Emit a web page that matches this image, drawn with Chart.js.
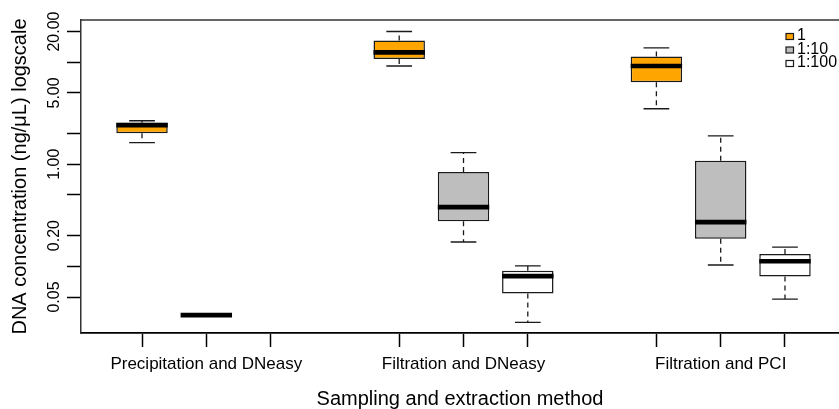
<!DOCTYPE html>
<html><head><meta charset="utf-8">
<script src="https://cdn.jsdelivr.net/npm/chart.js@4"></script>
<style>html,body{margin:0;padding:0;background:#fff;overflow:hidden}#wrap{width:839px;height:409px;position:relative}</style>
</head><body><div id="wrap"><canvas id="c"></canvas></div>
<script>
// ---- data ----
const groups = ['Precipitation and DNeasy', 'Filtration and DNeasy', 'Filtration and PCI'];
const seriesNames = ['1', '1:10', '1:100'];
const seriesColors = ['#FFA500', '#BEBEBE', '#FFFFFF'];
// each array: [series][group]
const whiskerHigh = [[2.67, 20.0, 13.8], [0.0332, 1.30, 1.90], [null, 0.101, 0.154]];
const upperQuartile = [[2.55, 16.3, 11.4], [0.0332, 0.839, 1.08], [null, 0.0904, 0.132]];
const medians = [[2.42, 12.5, 9.18], [0.0332, 0.380, 0.271], [null, 0.0802, 0.112]];
const lowerQuartile = [[2.01, 10.75, 6.35], [0.0332, 0.277, 0.186], [null, 0.0542, 0.0796]];
const whiskerLow = [[1.63, 9.18, 3.50], [0.0332, 0.173, 0.103], [null, 0.0282, 0.0477]];
const yTickValues = [0.05, 0.1, 0.2, 0.5, 1, 2, 5, 10, 20];
const yTickLabelled = [0.05, 0.2, 1, 5, 20];
const xTitle = 'Sampling and extraction method';
const yTitle = 'DNA concentration (ng/\u03BCL) logscale';

// ---- layout helpers ----
const FONT = '"Liberation Sans", Arial, Helvetica, sans-serif';
const slot = (s, g) => g * (seriesNames.length + 1) + s + 1;
const xTickPositions = [];
groups.forEach((g, gi) => seriesNames.forEach((s, si) => xTickPositions.push(slot(si, gi))));
const groupCenter = gi => slot((seriesNames.length - 1) / 2, gi);

const mc = document.createElement('canvas').getContext('2d');
mc.font = '16px ' + FONT;
const yLabW = mc.measureText('20.00').width;
const yTickPad = 12 - yLabW / 2;

const datasets = seriesNames.map((name, si) => ({
  label: name,
  data: groups.map((g, gi) => lowerQuartile[si][gi] == null ? null :
    { x: slot(si, gi), y: [lowerQuartile[si][gi], upperQuartile[si][gi]] }).filter(d => d),
  backgroundColor: seriesColors[si],
  borderColor: '#1a1a1a',
  borderWidth: 1.5,
  borderSkipped: false,
  grouped: false,
  barPercentage: 0.8,
  categoryPercentage: 1.0
}));

const boxExtras = {
  id: 'boxExtras',
  afterDatasetsDraw(chart) {
    const ctx = chart.ctx, xs = chart.scales.x, ys = chart.scales.y;
    ctx.save();
    seriesNames.forEach((name, si) => {
      groups.forEach((g, gi) => {
        if (medians[si][gi] == null) return;
        const p = slot(si, gi);
        const cx = xs.getPixelForValue(p);
        const capL = xs.getPixelForValue(p - 0.2), capR = xs.getPixelForValue(p + 0.2);
        const boxL = xs.getPixelForValue(p - 0.4), boxR = xs.getPixelForValue(p + 0.4);
        const yHi = ys.getPixelForValue(whiskerHigh[si][gi]);
        const yQ3 = ys.getPixelForValue(upperQuartile[si][gi]);
        const yQ1 = ys.getPixelForValue(lowerQuartile[si][gi]);
        const yLo = ys.getPixelForValue(whiskerLow[si][gi]);
        const yMed = ys.getPixelForValue(medians[si][gi]);
        ctx.strokeStyle = '#1a1a1a';
        ctx.lineWidth = 1.3;
        ctx.lineCap = 'butt';
        if (yQ3 - yHi > 0.5 || yLo - yQ1 > 0.5) {
          ctx.setLineDash([5, 4]);
          ctx.beginPath();
          ctx.moveTo(cx, yQ3); ctx.lineTo(cx, yHi);
          ctx.moveTo(cx, yQ1); ctx.lineTo(cx, yLo);
          ctx.stroke();
          ctx.setLineDash([]);
          ctx.beginPath();
          ctx.moveTo(capL, yHi); ctx.lineTo(capR, yHi);
          ctx.moveTo(capL, yLo); ctx.lineTo(capR, yLo);
          ctx.stroke();
        }
        ctx.setLineDash([]);
        ctx.strokeStyle = '#000';
        ctx.lineWidth = 4.7;
        ctx.beginPath();
        ctx.moveTo(boxL, yMed); ctx.lineTo(boxR, yMed);
        ctx.stroke();
      });
    });
    ctx.restore();
  },
  afterDraw(chart) {
    const ctx = chart.ctx, a = chart.chartArea;
    ctx.save();
    ctx.strokeStyle = '#333';
    ctx.lineWidth = 1.5;
    ctx.beginPath();
    ctx.moveTo(a.left - 0.75, a.top); ctx.lineTo(a.right, a.top);
    ctx.stroke();
    // legend
    const rows = [36, 49.5, 63];
    ctx.font = '16px ' + FONT;
    ctx.textBaseline = 'middle';
    ctx.textAlign = 'left';
    chart.data.datasets.forEach((ds, i) => {
      const y = rows[i];
      ctx.fillStyle = ds.backgroundColor;
      ctx.fillRect(786, y - 2.5, 7.5, 6);
      ctx.strokeStyle = '#1a1a1a';
      ctx.lineWidth = 1.2;
      ctx.strokeRect(786, y - 2.5, 7.5, 6);
      ctx.fillStyle = '#000';
      ctx.fillText(ds.label, 797, y);
    });
    ctx.restore();
  }
};

Chart.defaults.font.family = FONT;
Chart.defaults.color = '#000';

new Chart(document.getElementById('c'), {
  type: 'bar',
  data: { datasets },
  options: {
    responsive: true,
    maintainAspectRatio: false,
    animation: false,
    events: [],
    layout: { padding: { top: 20, right: 0, bottom: 0, left: 0 } },
    plugins: { legend: { display: false }, tooltip: { enabled: false } },
    scales: {
      x: {
        type: 'linear',
        offset: false,
        min: 0.051,
        max: 11.84,
        afterBuildTicks: s => { s.ticks = xTickPositions.map(v => ({ value: v })); },
        afterFit: s => { s.height = 76; },
        ticks: {
          autoSkip: false,
          maxRotation: 0,
          minRotation: 0,
          padding: 7,
          font: { size: 17 },
          callback: v => {
            const gi = groups.findIndex((g, i) => groupCenter(i) === v);
            return gi >= 0 ? groups[gi] : '';
          }
        },
        grid: { offset: false, drawOnChartArea: false, drawTicks: true, tickLength: 14, tickColor: '#000', tickWidth: 1.5 },
        border: { display: true, color: '#000', width: 1.8 },
        title: { display: true, text: xTitle, font: { size: 20, lineHeight: 1 }, padding: { top: 0, bottom: 0 } }
      },
      y: {
        type: 'logarithmic',
        min: 0.02219,
        max: 25.93,
        afterBuildTicks: s => { s.ticks = yTickValues.map(v => ({ value: v })); },
        afterFit: s => { s.width = 81; },
        ticks: {
          autoSkip: false,
          minRotation: 90,
          maxRotation: 90,
          crossAlign: 'center',
          padding: yTickPad,
          font: { size: 16 },
          callback: v => yTickLabelled.includes(v) ? v.toFixed(2) : ''
        },
        grid: { drawOnChartArea: false, drawTicks: true, tickLength: 14, tickColor: '#000', tickWidth: 1.5 },
        border: { display: true, color: '#333', width: 1.5 },
        title: { display: true, text: yTitle, font: { size: 20, lineHeight: 1 }, padding: { top: 10, bottom: 0 } }
      }
    }
  },
  plugins: [boxExtras]
});
</script></body></html>
